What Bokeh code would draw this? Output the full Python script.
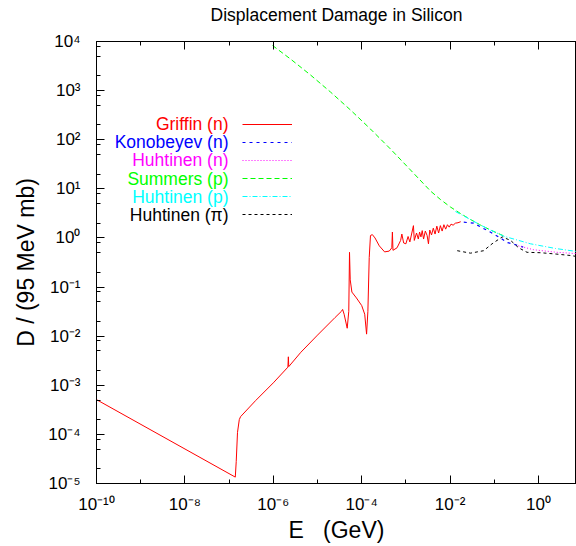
from bokeh.plotting import figure
from bokeh.models import (Range1d, FixedTicker, LogAxis, Legend, LegendItem, Label,
                          CustomJSTickFormatter)
from bokeh.core.properties import value
from bokeh.embed import file_html
from bokeh.resources import INLINE

# ---------------- data ----------------
griffin_E = [1.0e-10, 1.38e-7, 1.45e-7, 1.55e-7, 1.70e-7, 1.82e-7, 4.0e-7, 1.0e-6,
             2.14e-6, 2.19e-6, 2.24e-6, 4.2e-6, 1.0e-5, 2.5e-5, 3.47e-5, 3.7e-5,
             4.0e-5, 4.7e-5, 5.1e-5, 5.3e-5, 5.5e-5, 6.0e-5, 7.6e-5, 1.0e-4,
             1.17e-4, 1.29e-4, 1.38e-4, 1.48e-4, 1.58e-4, 1.74e-4, 2.0e-4, 2.5e-4,
             3.3e-4, 4.2e-4, 4.8e-4, 4.95e-4, 5.1e-4, 6.3e-4, 7.6e-4, 8.1e-4,
             8.9e-4, 1.0e-3, 1.12e-3, 1.23e-3, 1.48e-3, 1.55e-3, 1.74e-3, 1.91e-3,
             2.04e-3, 2.19e-3, 2.34e-3, 2.51e-3, 2.75e-3, 3.02e-3, 3.24e-3, 3.47e-3,
             3.80e-3, 4.17e-3, 4.57e-3, 5.01e-3, 5.50e-3, 6.03e-3, 6.61e-3, 7.24e-3,
             7.94e-3, 8.71e-3, 9.55e-3, 1.05e-2, 1.17e-2, 1.32e-2, 1.51e-2, 1.74e-2]
griffin_D = [5.1e-4, 1.35e-5, 2.8e-5, 1.1e-4, 2.0e-4, 2.3e-4, 4.9e-4, 1.12e-3,
             2.34e-3, 3.8e-3, 2.4e-3, 4.7e-3, 1.05e-2, 2.4e-2, 3.2e-2, 3.5e-2,
             2.8e-2, 1.45e-2, 3.2e-2, 0.51, 0.14, 0.079, 0.060, 0.042,
             0.028, 0.011, 0.032, 0.40, 1.12, 1.17, 1.0, 0.69,
             0.52, 0.54, 0.63, 1.32, 0.56, 0.63, 0.89, 1.20,
             0.79, 0.76, 1.07, 0.83, 1.78, 0.89, 1.26, 0.95,
             1.32, 1.05, 1.41, 0.95, 1.38, 1.12, 0.76, 1.45,
             1.15, 1.58, 1.20, 1.74, 1.26, 1.78, 1.38, 1.86,
             1.51, 1.86, 1.66, 1.91, 1.82, 2.0, 2.04, 2.14]

konobeyev_E = [2.04e-2, 3.4e-2, 5.0e-2, 8.1e-2, 0.126, 0.195, 0.33, 0.45]
konobeyev_D = [2.09, 2.0, 1.66, 1.32, 1.05, 0.81, 0.71, 0.65]

huhtinen_n_E = [0.35, 0.78, 2.6, 7.24]
huhtinen_n_D = [0.69, 0.575, 0.51, 0.48]

summers_E = [9.6e-7, 2.45e-6, 6.95e-6, 1.97e-5, 5.58e-5, 1.58e-4, 4.48e-4, 1.27e-3,
             3.61e-3, 6.07e-3, 1.02e-2, 1.72e-2, 2.90e-2, 4.87e-2, 8.2e-2, 0.18]
summers_D = [8300, 4400, 2080, 935, 403, 165, 64.7, 24.2,
             9.0, 6.05, 4.26, 3.14, 2.37, 1.83, 1.45, 1.06]

huhtinen_p_E = [1.32e-2, 2.90e-2, 4.87e-2, 8.2e-2, 0.161, 0.66, 2.43, 7.24]
huhtinen_p_D = [3.45, 2.37, 1.83, 1.45, 1.09, 0.76, 0.61, 0.53]

huhtinen_pi_E = [1.45e-2, 2.9e-2, 5.75e-2, 8.9e-2, 0.151, 0.234, 0.355, 0.55,
                 1.12, 2.5, 5.2, 7.24]
huhtinen_pi_D = [0.55, 0.49, 0.55, 0.76, 1.05, 0.89, 0.63, 0.51,
                 0.50, 0.47, 0.44, 0.42]

series_labels = ["Griffin (n)", "Konobeyev (n)", "Huhtinen (n)",
                 "Summers (p)", "Huhtinen (p)", "Huhtinen (\u03c0)"]

x_major_ticks = [1e-10, 1e-8, 1e-6, 1e-4, 1e-2, 1e0]
x_minor_ticks = [1e-9, 1e-7, 1e-5, 1e-3, 1e-1, 1e1]
x_tick_labels = ["10\u207b\u00b9\u2070", "10\u207b\u2078", "10\u207b\u2076",
                 "10\u207b\u2074", "10\u207b\u00b2", "10\u2070"]

y_major_ticks = [1e-5, 1e-4, 1e-3, 1e-2, 1e-1, 1e0, 1e1, 1e2, 1e3, 1e4]
y_minor_ticks = [m * 10.0 ** k for k in range(-5, 4) for m in (2, 5, 8)]
y_tick_labels = ["10\u207b\u2075", "10\u207b\u2074", "10\u207b\u00b3", "10\u207b\u00b2",
                 "10\u207b\u00b9", "10\u2070", "10\u00b9", "10\u00b2", "10\u00b3", "10\u2074"]

title_text = "Displacement Damage in Silicon"

FONT = "Liberation Sans"

p = figure(width=576, height=546, x_axis_type="log", y_axis_type="log",
           x_range=Range1d(1e-10, 7.24), y_range=Range1d(1e-5, 1e4),
           output_backend="svg", toolbar_location=None,
           min_border_left=96, min_border_right=0, min_border_top=41, min_border_bottom=63)

p.xgrid.visible = False
p.ygrid.visible = False
p.outline_line_color = "black"
p.outline_line_width = 1
p.background_fill_color = "white"
p.border_fill_color = "white"

xt = FixedTicker(ticks=x_major_ticks, minor_ticks=x_minor_ticks)
yt = FixedTicker(ticks=y_major_ticks, minor_ticks=y_minor_ticks)

for ax in p.xaxis:
    ax.ticker = xt
    ax.major_label_overrides = dict(zip(x_major_ticks, x_tick_labels))
    ax.axis_label = "E\u00a0\u00a0\u00a0(GeV)"
for ax in p.yaxis:
    ax.ticker = yt
    ax.major_label_overrides = dict(zip(y_major_ticks, y_tick_labels))
    ax.axis_label = "D / (95 MeV mb)"

for ax in list(p.xaxis) + list(p.yaxis):
    ax.axis_line_color = "black"
    ax.major_tick_line_color = "black"
    ax.minor_tick_line_color = "black"
    ax.major_tick_out = 0
    ax.minor_tick_out = 0
    ax.major_tick_in = 8
    ax.minor_tick_in = 4
    ax.major_label_text_font = FONT
    ax.major_label_text_font_size = "17px"
    ax.major_label_text_color = "black"
    ax.axis_label_text_font = FONT
    ax.axis_label_text_font_size = "23px"
    ax.axis_label_text_font_style = "normal"
    ax.axis_label_text_color = "black"

p.xaxis.major_label_standoff = 11
p.xaxis.axis_label_standoff = 0
p.yaxis.major_label_standoff = 16
p.yaxis.axis_label_standoff = 6

# top axis: mirrored ticks, carries the chart title as its label
top_axis = LogAxis(ticker=xt, formatter=CustomJSTickFormatter(code="return ''"),
                   major_tick_in=8, major_tick_out=0, minor_tick_in=4, minor_tick_out=0,
                   major_label_standoff=0, axis_line_color="black",
                   major_label_text_font_size="1px",
                   axis_label=title_text, axis_label_standoff=17,
                   axis_label_text_font=FONT, axis_label_text_font_size="17.5px",
                   axis_label_text_font_style="normal", axis_label_text_color="black")
p.add_layout(top_axis, "above")

r_g = p.line(griffin_E, griffin_D, line_color="#ff0000", line_width=1)
r_k = p.line(konobeyev_E, konobeyev_D, line_color="#0000ff", line_width=1.2, line_dash="3 4")
r_hn = p.line(huhtinen_n_E, huhtinen_n_D, line_color="#ff00ff", line_width=1, line_dash="1 2")
r_s = p.line(summers_E, summers_D, line_color="#00ff00", line_width=1, line_dash="5 3")
r_hp = p.line(huhtinen_p_E, huhtinen_p_D, line_color="#00ffff", line_width=1, line_dash="5 2 1 2")
r_pi = p.line(huhtinen_pi_E, huhtinen_pi_D, line_color="#000000", line_width=1, line_dash="3 3")

renderers = [r_g, r_k, r_hn, r_s, r_hp, r_pi]
colors = ["#ff0000", "#0000ff", "#ff00ff", "#00ff00", "#00ffff", "#000000"]

legend = Legend(items=[LegendItem(label=value(" "), renderers=[r]) for r in renderers],
                location=(146, 260), orientation="vertical",
                glyph_width=50, glyph_height=18, label_height=18, label_width=0,
                label_standoff=0, spacing=0, padding=0, margin=0,
                border_line_color=None, background_fill_alpha=0,
                label_text_font_size="1px")
p.add_layout(legend)

for i, (lab, col) in enumerate(zip(series_labels, colors)):
    p.add_layout(Label(x=132, y=359.5 - i * 18.2, x_units="screen", y_units="screen",
                       text=lab, text_align="right", text_baseline="middle",
                       text_color=col, text_font=FONT, text_font_size="17.5px"))

open("out.html", "w").write(file_html(p, INLINE))
